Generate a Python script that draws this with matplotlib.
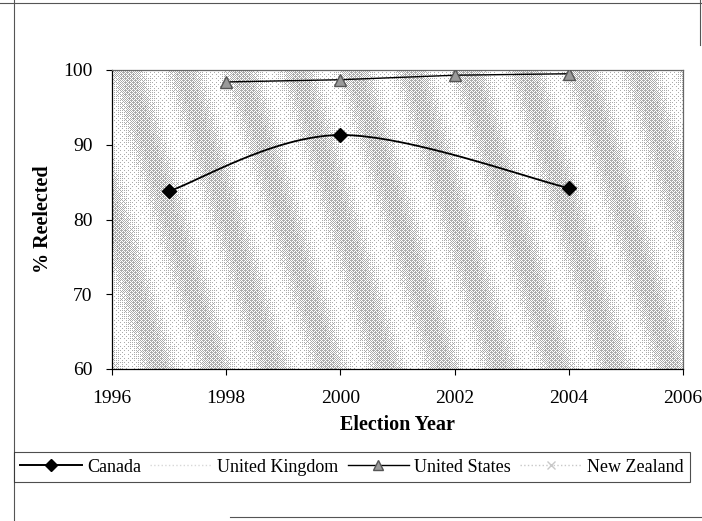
import numpy as np
import matplotlib
matplotlib.use("Agg")
import matplotlib.pyplot as plt
from matplotlib.lines import Line2D

# Re-election rates by election year
canada_years = [1997, 2000, 2004]
canada_pct = [83.8, 91.3, 84.2]

us_years = [1998, 2000, 2002, 2004]
us_pct = [98.4, 98.7, 99.3, 99.5]

uk_years = []
uk_pct = []

nz_years = []
nz_pct = []

x_ticks = [1996, 1998, 2000, 2002, 2004, 2006]
y_ticks = [60, 70, 80, 90, 100]

plt.rcParams['font.family'] = ['Liberation Serif', 'DejaVu Serif']

W, H = 702, 521
fig = plt.figure(figsize=(W / 100, H / 100), dpi=100)


def fig_line(x0, y0, x1, y1, color='#555555', lw=0.8):
    fig.add_artist(Line2D([x0 / W, x1 / W], [1 - y0 / H, 1 - y1 / H],
                          transform=fig.transFigure, color=color, lw=lw))


# outer chart frame
fig_line(0, 3, 702, 3)
fig_line(14, 0, 14, 521)
fig_line(700, 0, 700, 45)
fig_line(230, 517, 702, 517)

ax_l, ax_r, ax_t, ax_b = 112, 683, 70, 369
ax = fig.add_axes([ax_l / W, 1 - ax_b / H, (ax_r - ax_l) / W, (ax_b - ax_t) / H])
ax.set_xlim(1996, 2006)
ax.set_ylim(60, 100)

# halftone diagonal-band fill of the plot area
pw, ph = ax_r - ax_l, ax_b - ax_t
yy, xx = np.mgrid[0:ph, 0:pw]
phase = (xx - yy * 0.30) / 57.0 * 2 * np.pi
tone = 0.5 + 0.5 * np.sin(phase)
tone = 0.06 + 0.56 * tone
bayer = np.array([[0, 8, 2, 10], [12, 4, 14, 6], [3, 11, 1, 9], [15, 7, 13, 5]]) / 16.0
thr = np.tile(bayer, (ph // 4 + 1, pw // 4 + 1))[:ph, :pw]
dots = (tone > thr).astype(float)
img = 1.0 - dots * 0.33
ax.imshow(img, cmap='gray', vmin=0, vmax=1, extent=[1996, 2006, 60, 100],
          aspect='auto', interpolation='nearest', zorder=0)


def smooth_curve(xs, ys, n=60):
    # Bezier smoothing through the points (computed in normalized axis space)
    px = (np.asarray(xs, float) - 1996) / 10 * pw
    py = (np.asarray(ys, float) - 60) / 40 * ph
    pts = np.column_stack([px, py])
    out = []
    for i in range(len(pts) - 1):
        p0 = pts[max(i - 1, 0)]
        p1 = pts[i]
        p2 = pts[i + 1]
        p3 = pts[min(i + 2, len(pts) - 1)]
        c1 = p1 + (p2 - p0) / 6
        c2 = p2 - (p3 - p1) / 6
        t = np.linspace(0, 1, n)[:, None]
        seg = ((1 - t) ** 3) * p1 + 3 * ((1 - t) ** 2) * t * c1 + 3 * (1 - t) * t ** 2 * c2 + t ** 3 * p2
        out.append(seg)
    c = np.vstack(out)
    return c[:, 0] / pw * 10 + 1996, c[:, 1] / ph * 40 + 60


cx, cy = smooth_curve(canada_years, canada_pct)
ax.plot(cx, cy, color='black', lw=1.3, zorder=3)
ax.plot(canada_years, canada_pct, ls='none', marker='D', ms=7, color='black', zorder=4)

ax.plot(us_years, us_pct, color='black', lw=1.0, marker='^', ms=8,
        markerfacecolor='#9a9a9a', markeredgecolor='#555555', zorder=4)
ax.plot(uk_years, uk_pct, color='#d8d8d8', lw=1.0, ls=':')
ax.plot(nz_years, nz_pct, color='#c8c8c8', lw=1.0, ls=':', marker='x')

ax.set_xticks(x_ticks)
ax.set_yticks(y_ticks)
ax.tick_params(labelsize=14, length=4, direction='out', width=0.8)
ax.tick_params(axis='x', pad=11)
ax.tick_params(axis='y', pad=10)
for s in ax.spines.values():
    s.set_linewidth(0.9)
ax.spines['top'].set_color('#666666')
ax.spines['right'].set_color('#666666')

ax.set_xlabel('Election Year', fontsize=14.5, fontweight='bold', labelpad=6)
ax.set_ylabel('% Reelected', fontsize=14.5, fontweight='bold', labelpad=7)

handles = [
    Line2D([], [], color='black', lw=1.4, marker='D', ms=6),
    Line2D([], [], color='#d8d8d8', lw=1.0, ls=':'),
    Line2D([], [], color='black', lw=1.0, marker='^', ms=7,
           markerfacecolor='#9a9a9a', markeredgecolor='#555555'),
    Line2D([], [], color='#c8c8c8', lw=1.0, ls=':', marker='x', ms=6),
]
labels = ['Canada', 'United Kingdom', 'United States', 'New Zealand']
leg = fig.legend(handles, labels, loc='lower left', ncol=4, mode='expand',
                 bbox_to_anchor=(14 / W, 1 - 482 / H, (690 - 14) / W, 35 / H),
                 fontsize=13, frameon=True, fancybox=False, edgecolor='#222222',
                 handlelength=3.4, handletextpad=0.3, columnspacing=0.8,
                 borderpad=0.35, borderaxespad=0)
leg.get_frame().set_linewidth(0.8)

fig.savefig('out.png', dpi=100)
